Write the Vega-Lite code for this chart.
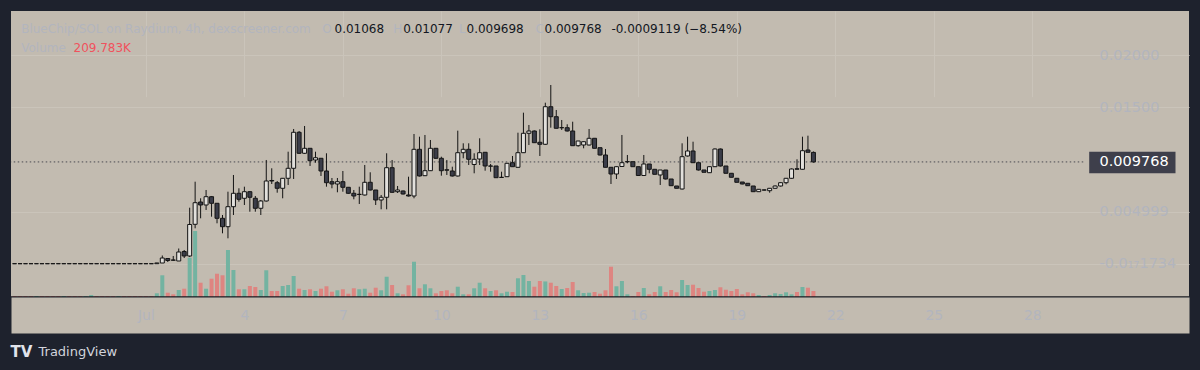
{
 "$schema": "https://vega.github.io/schema/vega-lite/v6.json",
 "width": 1178,
 "height": 286,
 "autosize": {"type": "none"},
 "padding": {"left": 11, "top": 11, "right": 11, "bottom": 73},
 "background": "#1e222d",
 "config": {
  "view": {"fill": "#c2bbb0", "stroke": null},
  "font": "DejaVu Sans",
  "axis": {"titleFontWeight": "normal", "titleLimit": 2000, "labelFont": "DejaVu Sans", "titleFont": "DejaVu Sans", "titleAngle": 0, "titleAlign": "left", "titleBaseline": "middle", "titleFontSize": 12}
 },
 "data": {"values": [
  {"t":"2024-06-27T00:00:00Z","o":0.00002,"h":0.00002,"l":0.000019,"c":0.000019,"v":35},
  {"t":"2024-06-27T04:00:00Z","o":0.00002,"h":0.00002,"l":0.000019,"c":0.000019,"v":35},
  {"t":"2024-06-27T08:00:00Z","o":0.00002,"h":0.00002,"l":0.000019,"c":0.000019,"v":35},
  {"t":"2024-06-27T12:00:00Z","o":0.00002,"h":0.00002,"l":0.000019,"c":0.000019,"v":35},
  {"t":"2024-06-27T16:00:00Z","o":0.000019,"h":0.00002,"l":0.000019,"c":0.00002,"v":35},
  {"t":"2024-06-27T20:00:00Z","o":0.00002,"h":0.00002,"l":0.000019,"c":0.000019,"v":35},
  {"t":"2024-06-28T00:00:00Z","o":0.00002,"h":0.00002,"l":0.000019,"c":0.000019,"v":35},
  {"t":"2024-06-28T04:00:00Z","o":0.00002,"h":0.00002,"l":0.000019,"c":0.000019,"v":35},
  {"t":"2024-06-28T08:00:00Z","o":0.00002,"h":0.00002,"l":0.000019,"c":0.000019,"v":35},
  {"t":"2024-06-28T12:00:00Z","o":0.000019,"h":0.00002,"l":0.000019,"c":0.00002,"v":35},
  {"t":"2024-06-28T16:00:00Z","o":0.00002,"h":0.00002,"l":0.000019,"c":0.000019,"v":35},
  {"t":"2024-06-28T20:00:00Z","o":0.00002,"h":0.00002,"l":0.000019,"c":0.000019,"v":35},
  {"t":"2024-06-29T00:00:00Z","o":0.00002,"h":0.00002,"l":0.000019,"c":0.000019,"v":35},
  {"t":"2024-06-29T04:00:00Z","o":0.000019,"h":0.00002,"l":0.000019,"c":0.00002,"v":35},
  {"t":"2024-06-29T08:00:00Z","o":0.000019,"h":0.00002,"l":0.000019,"c":0.00002,"v":70},
  {"t":"2024-06-29T12:00:00Z","o":0.00002,"h":0.00002,"l":0.000019,"c":0.000019,"v":35},
  {"t":"2024-06-29T16:00:00Z","o":0.00002,"h":0.00002,"l":0.000019,"c":0.000019,"v":35},
  {"t":"2024-06-29T20:00:00Z","o":0.00002,"h":0.00002,"l":0.000019,"c":0.000019,"v":35},
  {"t":"2024-06-30T00:00:00Z","o":0.00002,"h":0.00002,"l":0.000019,"c":0.000019,"v":35},
  {"t":"2024-06-30T04:00:00Z","o":0.000019,"h":0.00002,"l":0.000019,"c":0.00002,"v":35},
  {"t":"2024-06-30T08:00:00Z","o":0.00002,"h":0.00002,"l":0.000019,"c":0.000019,"v":35},
  {"t":"2024-06-30T12:00:00Z","o":0.00002,"h":0.00002,"l":0.000019,"c":0.000019,"v":35},
  {"t":"2024-06-30T16:00:00Z","o":0.00002,"h":0.00002,"l":0.000019,"c":0.000019,"v":35},
  {"t":"2024-06-30T20:00:00Z","o":0.00002,"h":0.00002,"l":0.000019,"c":0.000019,"v":35},
  {"t":"2024-07-01T00:00:00Z","o":0.00002,"h":0.00002,"l":0.000019,"c":0.000019,"v":35},
  {"t":"2024-07-01T04:00:00Z","o":0.00002,"h":0.00002,"l":0.000019,"c":0.000019,"v":35},
  {"t":"2024-07-01T08:00:00Z","o":0.00002,"h":0.00009,"l":0.00002,"c":0.00009,"v":130},
  {"t":"2024-07-01T12:00:00Z","o":0.000086,"h":0.000805,"l":0.000086,"c":0.000565,"v":760},
  {"t":"2024-07-01T16:00:00Z","o":0.000517,"h":0.000565,"l":0.000182,"c":0.000326,"v":150},
  {"t":"2024-07-01T20:00:00Z","o":0.000374,"h":0.000757,"l":0.000278,"c":0.000354,"v":95},
  {"t":"2024-07-02T00:00:00Z","o":0.000278,"h":0.001475,"l":0.000278,"c":0.00114,"v":245},
  {"t":"2024-07-02T04:00:00Z","o":0.001188,"h":0.001332,"l":0.000565,"c":0.000757,"v":290},
  {"t":"2024-07-02T08:00:00Z","o":0.000757,"h":0.005383,"l":0.000661,"c":0.003774,"v":1375},
  {"t":"2024-07-02T12:00:00Z","o":0.003793,"h":0.007874,"l":0.00341,"c":0.005862,"v":2310},
  {"t":"2024-07-02T16:00:00Z","o":0.005929,"h":0.006284,"l":0.004368,"c":0.005642,"v":500},
  {"t":"2024-07-02T20:00:00Z","o":0.005642,"h":0.007079,"l":0.005163,"c":0.006437,"v":290},
  {"t":"2024-07-03T00:00:00Z","o":0.006437,"h":0.006504,"l":0.004521,"c":0.005805,"v":640},
  {"t":"2024-07-03T04:00:00Z","o":0.005805,"h":0.005834,"l":0.003889,"c":0.004368,"v":815},
  {"t":"2024-07-03T08:00:00Z","o":0.004368,"h":0.004684,"l":0.002931,"c":0.003563,"v":760},
  {"t":"2024-07-03T12:00:00Z","o":0.003563,"h":0.006916,"l":0.002452,"c":0.005479,"v":1645},
  {"t":"2024-07-03T16:00:00Z","o":0.005479,"h":0.008516,"l":0.004684,"c":0.006763,"v":945},
  {"t":"2024-07-03T20:00:00Z","o":0.006763,"h":0.007242,"l":0.005958,"c":0.006188,"v":270},
  {"t":"2024-07-04T00:00:00Z","o":0.006284,"h":0.007395,"l":0.005642,"c":0.006916,"v":270},
  {"t":"2024-07-04T04:00:00Z","o":0.006916,"h":0.006983,"l":0.005,"c":0.00638,"v":385},
  {"t":"2024-07-04T08:00:00Z","o":0.006284,"h":0.006504,"l":0.005,"c":0.005326,"v":350},
  {"t":"2024-07-04T12:00:00Z","o":0.005326,"h":0.006121,"l":0.004684,"c":0.006025,"v":245},
  {"t":"2024-07-04T16:00:00Z","o":0.006025,"h":0.009953,"l":0.005977,"c":0.007941,"v":935},
  {"t":"2024-07-04T20:00:00Z","o":0.007989,"h":0.009158,"l":0.007654,"c":0.007941,"v":210},
  {"t":"2024-07-05T00:00:00Z","o":0.007778,"h":0.007941,"l":0.00682,"c":0.007242,"v":210},
  {"t":"2024-07-05T04:00:00Z","o":0.007242,"h":0.008229,"l":0.006284,"c":0.0082,"v":385},
  {"t":"2024-07-05T08:00:00Z","o":0.0082,"h":0.010748,"l":0.007558,"c":0.009158,"v":420},
  {"t":"2024-07-05T12:00:00Z","o":0.009158,"h":0.012922,"l":0.008133,"c":0.012606,"v":735},
  {"t":"2024-07-05T16:00:00Z","o":0.012606,"h":0.01273,"l":0.010528,"c":0.010595,"v":290},
  {"t":"2024-07-05T20:00:00Z","o":0.010595,"h":0.01321,"l":0.010528,"c":0.011073,"v":245},
  {"t":"2024-07-06T00:00:00Z","o":0.011073,"h":0.011102,"l":0.009378,"c":0.009886,"v":270},
  {"t":"2024-07-06T04:00:00Z","o":0.009953,"h":0.010748,"l":0.009694,"c":0.010173,"v":210},
  {"t":"2024-07-06T08:00:00Z","o":0.010116,"h":0.010144,"l":0.00842,"c":0.008899,"v":290},
  {"t":"2024-07-06T12:00:00Z","o":0.008899,"h":0.010595,"l":0.007395,"c":0.007778,"v":375},
  {"t":"2024-07-06T16:00:00Z","o":0.007874,"h":0.008229,"l":0.007242,"c":0.007654,"v":185},
  {"t":"2024-07-06T20:00:00Z","o":0.007654,"h":0.008229,"l":0.006859,"c":0.007874,"v":235},
  {"t":"2024-07-07T00:00:00Z","o":0.007874,"h":0.008899,"l":0.006916,"c":0.007338,"v":270},
  {"t":"2024-07-07T04:00:00Z","o":0.007338,"h":0.007367,"l":0.006696,"c":0.006763,"v":115},
  {"t":"2024-07-07T08:00:00Z","o":0.006763,"h":0.007079,"l":0.006188,"c":0.006504,"v":305},
  {"t":"2024-07-07T12:00:00Z","o":0.006648,"h":0.007395,"l":0.005738,"c":0.006667,"v":270},
  {"t":"2024-07-07T16:00:00Z","o":0.0066,"h":0.009474,"l":0.006552,"c":0.007817,"v":290},
  {"t":"2024-07-07T20:00:00Z","o":0.007817,"h":0.008775,"l":0.007031,"c":0.007079,"v":150},
  {"t":"2024-07-08T00:00:00Z","o":0.007079,"h":0.007079,"l":0.005642,"c":0.006121,"v":325},
  {"t":"2024-07-08T04:00:00Z","o":0.006121,"h":0.0066,"l":0.00523,"c":0.00638,"v":235},
  {"t":"2024-07-08T08:00:00Z","o":0.00638,"h":0.010595,"l":0.00523,"c":0.009215,"v":710},
  {"t":"2024-07-08T12:00:00Z","o":0.009215,"h":0.009953,"l":0.006792,"c":0.006859,"v":420},
  {"t":"2024-07-08T16:00:00Z","o":0.006916,"h":0.007462,"l":0.006792,"c":0.007079,"v":130},
  {"t":"2024-07-08T20:00:00Z","o":0.006983,"h":0.007031,"l":0.006648,"c":0.006696,"v":95},
  {"t":"2024-07-09T00:00:00Z","o":0.0066,"h":0.008353,"l":0.006456,"c":0.006504,"v":410},
  {"t":"2024-07-09T04:00:00Z","o":0.006504,"h":0.012443,"l":0.006284,"c":0.010977,"v":1235},
  {"t":"2024-07-09T08:00:00Z","o":0.010977,"h":0.012185,"l":0.008372,"c":0.00842,"v":305},
  {"t":"2024-07-09T12:00:00Z","o":0.008449,"h":0.012348,"l":0.00842,"c":0.008928,"v":445},
  {"t":"2024-07-09T16:00:00Z","o":0.008928,"h":0.011869,"l":0.008899,"c":0.011073,"v":305},
  {"t":"2024-07-09T20:00:00Z","o":0.011073,"h":0.011102,"l":0.010048,"c":0.010116,"v":130},
  {"t":"2024-07-10T00:00:00Z","o":0.010116,"h":0.010269,"l":0.008449,"c":0.008928,"v":210},
  {"t":"2024-07-10T04:00:00Z","o":0.009014,"h":0.009953,"l":0.008516,"c":0.008976,"v":235},
  {"t":"2024-07-10T08:00:00Z","o":0.008899,"h":0.009311,"l":0.008372,"c":0.00842,"v":130},
  {"t":"2024-07-10T12:00:00Z","o":0.00842,"h":0.01276,"l":0.008372,"c":0.010652,"v":360},
  {"t":"2024-07-10T16:00:00Z","o":0.010652,"h":0.011552,"l":0.010116,"c":0.010977,"v":95},
  {"t":"2024-07-10T20:00:00Z","o":0.010977,"h":0.011552,"l":0.009474,"c":0.01002,"v":95},
  {"t":"2024-07-11T00:00:00Z","o":0.009522,"h":0.010595,"l":0.008679,"c":0.01002,"v":305},
  {"t":"2024-07-11T04:00:00Z","o":0.010048,"h":0.012031,"l":0.009474,"c":0.010652,"v":500},
  {"t":"2024-07-11T08:00:00Z","o":0.01069,"h":0.010719,"l":0.008928,"c":0.009378,"v":305},
  {"t":"2024-07-11T12:00:00Z","o":0.009359,"h":0.00957,"l":0.008832,"c":0.009378,"v":210},
  {"t":"2024-07-11T16:00:00Z","o":0.009378,"h":0.009378,"l":0.008229,"c":0.008257,"v":235},
  {"t":"2024-07-11T20:00:00Z","o":0.008276,"h":0.008832,"l":0.008257,"c":0.008296,"v":130},
  {"t":"2024-07-12T00:00:00Z","o":0.008353,"h":0.009665,"l":0.008324,"c":0.009637,"v":185},
  {"t":"2024-07-12T04:00:00Z","o":0.009694,"h":0.010336,"l":0.009282,"c":0.009311,"v":175},
  {"t":"2024-07-12T08:00:00Z","o":0.009253,"h":0.012568,"l":0.009234,"c":0.010652,"v":655},
  {"t":"2024-07-12T12:00:00Z","o":0.010652,"h":0.014484,"l":0.010623,"c":0.01251,"v":770},
  {"t":"2024-07-12T16:00:00Z","o":0.01251,"h":0.013305,"l":0.01139,"c":0.01273,"v":560},
  {"t":"2024-07-12T20:00:00Z","o":0.01273,"h":0.012779,"l":0.011581,"c":0.01161,"v":360},
  {"t":"2024-07-13T00:00:00Z","o":0.011648,"h":0.012894,"l":0.010336,"c":0.011457,"v":560},
  {"t":"2024-07-13T04:00:00Z","o":0.011457,"h":0.015441,"l":0.01139,"c":0.015058,"v":545},
  {"t":"2024-07-13T08:00:00Z","o":0.015058,"h":0.017137,"l":0.013047,"c":0.0141,"v":500},
  {"t":"2024-07-13T12:00:00Z","o":0.0141,"h":0.014742,"l":0.01297,"c":0.012989,"v":385},
  {"t":"2024-07-13T16:00:00Z","o":0.013037,"h":0.013784,"l":0.012827,"c":0.013056,"v":280},
  {"t":"2024-07-13T20:00:00Z","o":0.013047,"h":0.013373,"l":0.012683,"c":0.01273,"v":315},
  {"t":"2024-07-14T00:00:00Z","o":0.01273,"h":0.013621,"l":0.011294,"c":0.011323,"v":525},
  {"t":"2024-07-14T04:00:00Z","o":0.011323,"h":0.011773,"l":0.011227,"c":0.011773,"v":235},
  {"t":"2024-07-14T08:00:00Z","o":0.01139,"h":0.011725,"l":0.011073,"c":0.011706,"v":140},
  {"t":"2024-07-14T12:00:00Z","o":0.01139,"h":0.012922,"l":0.011342,"c":0.012031,"v":150},
  {"t":"2024-07-14T16:00:00Z","o":0.012031,"h":0.01206,"l":0.011054,"c":0.011073,"v":175},
  {"t":"2024-07-14T20:00:00Z","o":0.011131,"h":0.01115,"l":0.010384,"c":0.010432,"v":115},
  {"t":"2024-07-15T00:00:00Z","o":0.010432,"h":0.011006,"l":0.009234,"c":0.009253,"v":235},
  {"t":"2024-07-15T04:00:00Z","o":0.009253,"h":0.009282,"l":0.007654,"c":0.008612,"v":1060},
  {"t":"2024-07-15T08:00:00Z","o":0.008612,"h":0.00933,"l":0.008133,"c":0.009311,"v":375},
  {"t":"2024-07-15T12:00:00Z","o":0.00933,"h":0.012348,"l":0.009282,"c":0.009694,"v":560},
  {"t":"2024-07-15T16:00:00Z","o":0.00978,"h":0.010432,"l":0.009637,"c":0.0098,"v":95},
  {"t":"2024-07-15T20:00:00Z","o":0.00979,"h":0.009809,"l":0.009282,"c":0.009311,"v":35},
  {"t":"2024-07-16T00:00:00Z","o":0.009311,"h":0.00933,"l":0.00842,"c":0.008468,"v":175},
  {"t":"2024-07-16T04:00:00Z","o":0.008468,"h":0.010432,"l":0.00842,"c":0.00957,"v":315},
  {"t":"2024-07-16T08:00:00Z","o":0.00957,"h":0.00957,"l":0.008679,"c":0.009062,"v":95},
  {"t":"2024-07-16T12:00:00Z","o":0.009062,"h":0.009091,"l":0.008564,"c":0.008583,"v":175},
  {"t":"2024-07-16T16:00:00Z","o":0.008516,"h":0.008995,"l":0.007558,"c":0.008995,"v":375},
  {"t":"2024-07-16T20:00:00Z","o":0.008995,"h":0.008995,"l":0.008085,"c":0.008133,"v":175},
  {"t":"2024-07-17T00:00:00Z","o":0.008133,"h":0.008133,"l":0.007462,"c":0.007491,"v":245},
  {"t":"2024-07-17T04:00:00Z","o":0.007462,"h":0.007462,"l":0.007223,"c":0.007242,"v":165},
  {"t":"2024-07-17T08:00:00Z","o":0.007175,"h":0.011552,"l":0.007127,"c":0.010269,"v":595},
  {"t":"2024-07-17T12:00:00Z","o":0.010336,"h":0.012185,"l":0.010288,"c":0.010815,"v":420},
  {"t":"2024-07-17T16:00:00Z","o":0.010815,"h":0.011706,"l":0.009665,"c":0.009694,"v":430},
  {"t":"2024-07-17T20:00:00Z","o":0.009694,"h":0.009713,"l":0.008947,"c":0.008995,"v":315},
  {"t":"2024-07-18T00:00:00Z","o":0.008995,"h":0.008995,"l":0.008755,"c":0.008775,"v":185},
  {"t":"2024-07-18T04:00:00Z","o":0.008736,"h":0.00933,"l":0.008707,"c":0.009311,"v":210},
  {"t":"2024-07-18T08:00:00Z","o":0.009311,"h":0.011054,"l":0.009282,"c":0.011006,"v":245},
  {"t":"2024-07-18T12:00:00Z","o":0.011006,"h":0.011054,"l":0.00933,"c":0.009378,"v":340},
  {"t":"2024-07-18T16:00:00Z","o":0.009378,"h":0.009378,"l":0.00866,"c":0.008679,"v":255},
  {"t":"2024-07-18T20:00:00Z","o":0.008679,"h":0.008707,"l":0.008276,"c":0.008296,"v":210},
  {"t":"2024-07-19T00:00:00Z","o":0.0082,"h":0.008229,"l":0.007797,"c":0.007817,"v":280},
  {"t":"2024-07-19T04:00:00Z","o":0.007845,"h":0.007845,"l":0.007625,"c":0.007654,"v":95},
  {"t":"2024-07-19T08:00:00Z","o":0.007721,"h":0.007749,"l":0.007462,"c":0.007491,"v":165},
  {"t":"2024-07-19T12:00:00Z","o":0.007462,"h":0.007462,"l":0.006887,"c":0.006916,"v":130},
  {"t":"2024-07-19T16:00:00Z","o":0.006916,"h":0.007175,"l":0.006887,"c":0.007146,"v":70},
  {"t":"2024-07-19T20:00:00Z","o":0.007088,"h":0.007127,"l":0.007031,"c":0.007069,"v":35},
  {"t":"2024-07-20T00:00:00Z","o":0.007012,"h":0.007271,"l":0.00682,"c":0.007242,"v":70},
  {"t":"2024-07-20T04:00:00Z","o":0.007242,"h":0.00751,"l":0.007223,"c":0.007462,"v":130},
  {"t":"2024-07-20T08:00:00Z","o":0.007462,"h":0.007797,"l":0.007414,"c":0.007778,"v":105},
  {"t":"2024-07-20T12:00:00Z","o":0.007778,"h":0.008229,"l":0.007625,"c":0.0082,"v":165},
  {"t":"2024-07-20T16:00:00Z","o":0.0082,"h":0.009138,"l":0.008181,"c":0.009091,"v":95},
  {"t":"2024-07-20T20:00:00Z","o":0.00911,"h":0.01002,"l":0.009043,"c":0.009072,"v":175},
  {"t":"2024-07-21T00:00:00Z","o":0.009062,"h":0.012185,"l":0.009043,"c":0.010844,"v":350},
  {"t":"2024-07-21T04:00:00Z","o":0.010911,"h":0.01228,"l":0.010671,"c":0.01069,"v":325},
  {"t":"2024-07-21T08:00:00Z","o":0.01068,"h":0.01077,"l":0.009698,"c":0.009768,"v":209.783}
 ]},
 "resolve": {"scale": {"y": "independent"}, "axis": {"y": "independent", "x": "independent"}},
 "layer": [
  {
   "mark": {"type": "bar", "width": 4, "clip": true},
   "encoding": {
    "x": {"field": "t", "type": "temporal",
     "scale": {"type": "utc", "domain": [1719450144000, 1722524083200]},
     "axis": {
      "orient": "bottom", "offset": 18, "zindex": 0,
      "values": [1719792000000, 1720051200000, 1720310400000, 1720569600000, 1720828800000, 1721088000000, 1721347200000, 1721606400000, 1721865600000, 1722124800000],
      "domain": true, "domainColor": "#c2bbb0", "domainWidth": 36, "domainCap": "butt",
      "ticks": false, "labels": false,
      "grid": true, "gridColor": "#cac4ba", "gridWidth": 1,
      "title": "H", "titleX": 381.7, "titleY": -287, "titleColor": "#b2b5be"
     }},
    "y": {"field": "v", "type": "quantitative",
     "scale": {"domain": [0, 3000], "range": [286, 200.3], "nice": false, "zero": false},
     "axis": {"orient": "left", "labels": false, "ticks": false, "domain": false, "grid": false,
      "title": "Volume", "titleX": 9.7, "titleY": 36, "titleColor": "#b2b5be"}},
    "color": {"condition": {"test": "datum.c >= datum.o", "value": "#73b3a1"}, "value": "#de8581"}
   }
  },
  {
   "data": {"values": [{}]},
   "mark": {"type": "rule", "color": "#181a1f", "strokeWidth": 1.6, "clip": true},
   "encoding": {
    "x": {"datum": {"year": 2024, "month": 6, "date": 26, "utc": true}, "type": "temporal",
     "scale": {"type": "utc", "domain": [1719450144000, 1722524083200]},
     "axis": {"orient": "bottom", "labels": false, "ticks": false, "domain": false, "grid": false,
      "title": "L", "titleX": 447.5, "titleY": -269, "titleColor": "#b2b5be"}},
    "x2": {"datum": {"year": 2024, "month": 8, "date": 3, "utc": true}},
    "y": {"datum": 0, "type": "quantitative",
     "scale": {"domain": [0, 3000], "range": [286, 200.3], "nice": false, "zero": false},
     "axis": {"orient": "left", "labels": false, "ticks": false, "domain": false, "grid": false,
      "title": "209.783K", "titleX": 62, "titleY": 36, "titleColor": "#f0525d"}}
   }
  },
  {
   "data": {"values": [{}]},
   "mark": {"type": "rule", "color": "#4a4a52", "strokeDash": [1.5, 2.5], "strokeWidth": 1, "clip": true},
   "encoding": {
    "x": {"datum": {"year": 2024, "month": 6, "date": 26, "utc": true}, "type": "temporal",
     "scale": {"type": "utc", "domain": [1719450144000, 1722524083200]},
     "axis": {"orient": "bottom", "labels": false, "ticks": false, "domain": false, "grid": false,
      "title": "C", "titleX": 524, "titleY": -269, "titleColor": "#b2b5be"}},
    "x2": {"datum": {"year": 2024, "month": 7, "date": 29, "hours": 14, "minutes": 13, "utc": true}},
    "y": {"datum": 0.009768, "type": "quantitative",
     "scale": {"domain": [0, 0.02], "range": [252.9, 44.1], "nice": false, "zero": false},
     "axis": {"orient": "left", "labels": false, "ticks": false, "domain": false,
      "values": [0, 0.005, 0.015, 0.02],
      "grid": true, "gridColor": "#cac4ba", "gridWidth": 1,
      "title": "0.01068", "titleX": 323, "titleY": 17, "titleColor": "#131722"}}
   }
  },
  {
   "mark": {"type": "rule", "color": "#141414", "strokeWidth": 1, "clip": true},
   "encoding": {
    "x": {"field": "t", "type": "temporal",
     "scale": {"type": "utc", "domain": [1719450144000, 1722524083200]},
     "axis": {
      "orient": "bottom", "offset": 18, "zindex": 1,
      "values": [1719792000000, 1720051200000, 1720310400000, 1720569600000, 1720828800000, 1721088000000, 1721347200000, 1721606400000, 1721865600000, 1722124800000],
      "labelExpr": "utcdate(datum.value) == 1 ? 'Jul' : '' + utcdate(datum.value)",
      "domain": false, "grid": false, "ticks": false, "tickSize": 0, "labelPadding": 0,
      "labelBaseline": "middle", "labelAlign": "center", "labelAngle": 0,
      "labelColor": "#b2b5be", "labelFontSize": 14,
      "labelFlush": false, "labelOverlap": false, "labelBound": false,
      "title": "TradingView", "titleX": 27, "titleY": 36.5,
      "titleColor": "#d1d4dc", "titleFontSize": 13
     }},
    "y": {"field": "o", "type": "quantitative",
     "scale": {"domain": [0, 0.02], "range": [252.9, 44.1], "nice": false, "zero": false},
     "axis": {"orient": "right", "offset": -100.3,
      "values": [0, 0.004999, 0.015, 0.02],
      "labelExpr": "datum.value >= 0.019 ? '0.02000' : datum.value >= 0.014 ? '0.01500' : datum.value >= 0.004 ? '0.004999' : '-0.0₁₇1734'",
      "ticks": false, "tickSize": 0, "domain": false, "grid": false,
      "labelPadding": 10.3, "labelAlign": "left", "labelBaseline": "middle",
      "labelColor": "#b2b5be", "labelFontSize": 14.5,
      "labelBound": false, "labelOverlap": false, "labelFlush": false,
      "title": "BlueChip/SOL on Raydium, 4h, dexscreener.com\u00a0\u00a0\u00a0O",
      "titleX": -1068, "titleY": 17, "titleColor": "#b2b5be"}},
    "y2": {"field": "h"}
   }
  },
  {
   "mark": {"type": "rule", "color": "#141414", "strokeWidth": 1, "clip": true},
   "encoding": {
    "x": {"field": "t", "type": "temporal",
     "scale": {"type": "utc", "domain": [1719450144000, 1722524083200]},
     "axis": {"orient": "bottom", "labels": false, "ticks": false, "domain": false, "grid": false,
      "title": "TV", "titleX": -1, "titleY": 54, "titleColor": "#e0e3eb",
      "titleFontSize": 15, "titleFontWeight": "bold"}},
    "y": {"field": "l", "type": "quantitative",
     "scale": {"domain": [0, 0.02], "range": [252.9, 44.1], "nice": false, "zero": false},
     "axis": {"orient": "left", "labels": false, "ticks": false, "domain": false, "grid": false,
      "title": "0.01077", "titleX": 391.7, "titleY": 17, "titleColor": "#131722"}},
    "y2": {"field": "c"}
   }
  },
  {
   "mark": {"type": "bar", "width": 4, "stroke": "#141414", "strokeWidth": 1, "clip": true},
   "encoding": {
    "x": {"field": "t", "type": "temporal",
     "scale": {"type": "utc", "domain": [1719450144000, 1722524083200]},
     "axis": {"orient": "bottom", "labels": false, "ticks": false, "domain": false, "grid": false,
      "title": "0.009698", "titleX": 455, "titleY": -269, "titleColor": "#131722"}},
    "y": {"field": "o", "type": "quantitative",
     "scale": {"domain": [0, 0.02], "range": [252.9, 44.1], "nice": false, "zero": false},
     "axis": {"orient": "right", "offset": -100.3, "zindex": 1,
      "values": [0.009768],
      "labelExpr": "'0.009768'",
      "ticks": true, "tickSize": 86.3, "tickWidth": 21.7, "tickColor": "#3e3f4b", "tickCap": "butt",
      "domain": false, "grid": false,
      "labelPadding": -76, "labelAlign": "left", "labelBaseline": "middle",
      "labelColor": "#ffffff", "labelFontSize": 14.5,
      "labelBound": false, "labelOverlap": false, "labelFlush": false,
      "title": "0.009768\u00a0\u00a0\u2006-0.0009119 (−8.54%)", "titleX": -544.7, "titleY": 17, "titleColor": "#131722"}},
    "y2": {"field": "c"},
    "fill": {"condition": {"test": "datum.c >= datum.o", "value": "#e2e0dc"}, "value": "#3b3d49"}
   }
  }
 ]
}
